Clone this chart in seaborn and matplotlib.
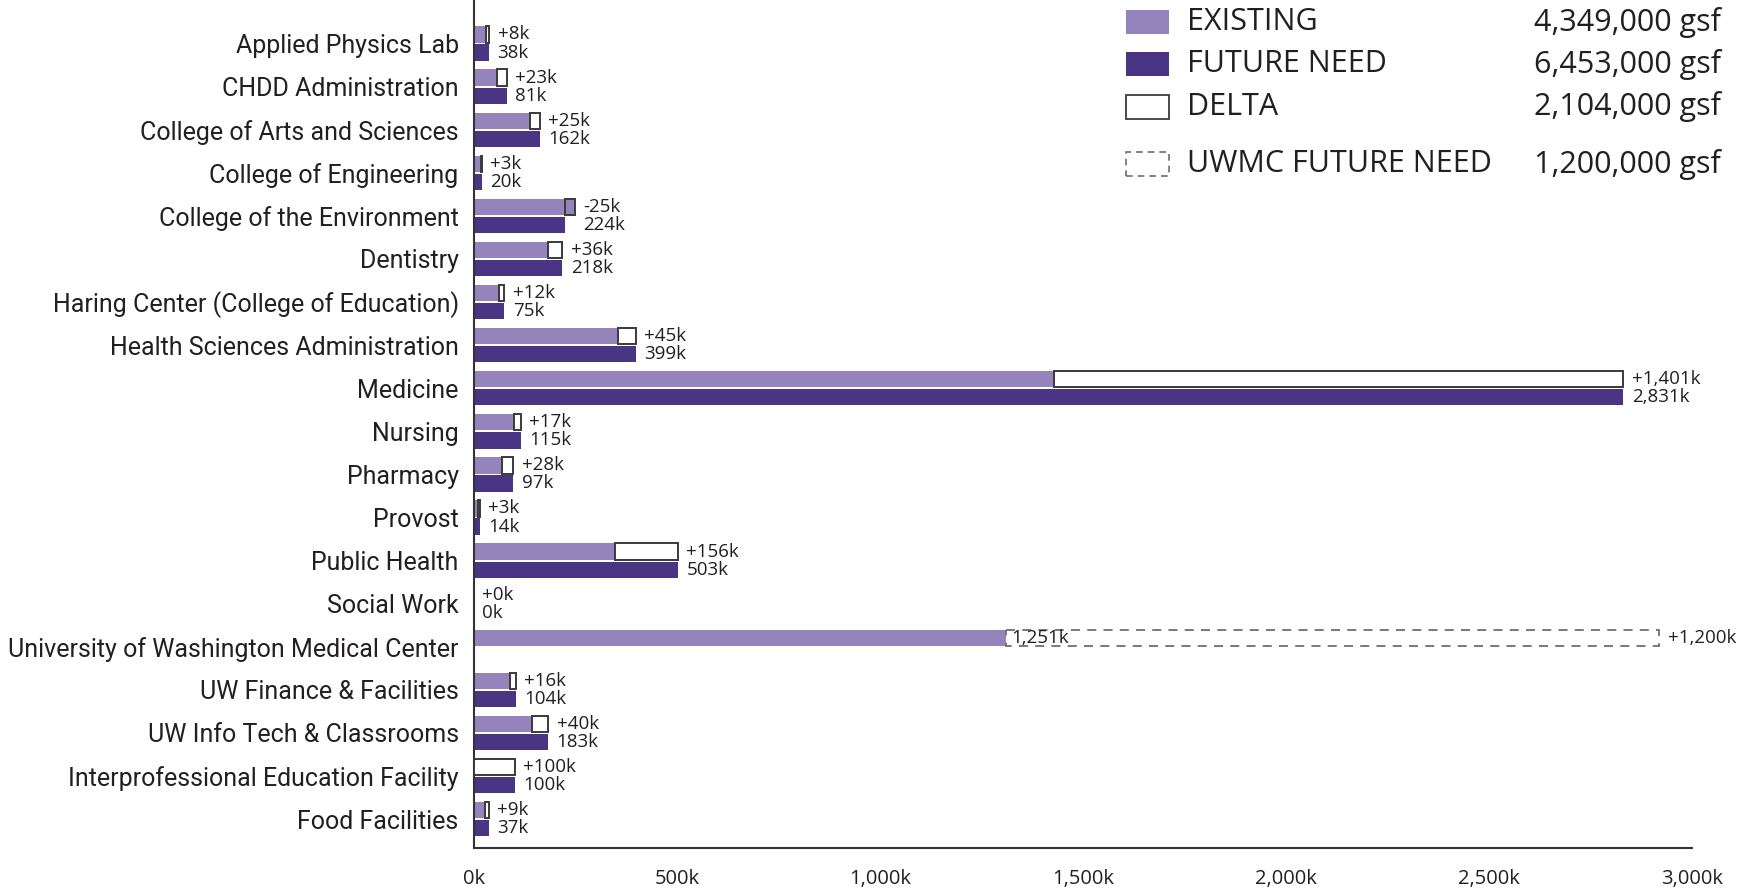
import numpy as np
import pandas as pd
import matplotlib
matplotlib.use('Agg')
import matplotlib.pyplot as plt
import seaborn as sns
from matplotlib.patches import Rectangle

# values in thousands of gsf
departments = [
    'Applied Physics Lab', 'CHDD Administration', 'College of Arts and Sciences',
    'College of Engineering', 'College of the Environment', 'Dentistry',
    'Haring Center (College of Education)', 'Health Sciences Administration',
    'Medicine', 'Nursing', 'Pharmacy', 'Provost', 'Public Health', 'Social Work',
    'University of Washington Medical Center', 'UW Finance & Facilities',
    'UW Info Tech & Classrooms', 'Interprofessional Education Facility',
    'Food Facilities',
]
existing = [30, 58, 137, 17, 249, 182, 63, 354, 1430, 98, 69, 11, 347, 0, 1310, 88, 143, 0, 28]
future_need = [38, 81, 162, 20, 224, 218, 75, 399, 2831, 115, 97, 14, 503, 0, 0, 104, 183, 100, 37]
delta_labels = ['+8k', '+23k', '+25k', '+3k', '-25k', '+36k', '+12k', '+45k', '+1,401k',
                '+17k', '+28k', '+3k', '+156k', '+0k', '', '+16k', '+40k', '+100k', '+9k']
future_labels = ['38k', '81k', '162k', '20k', '224k', '218k', '75k', '399k', '2,831k',
                 '115k', '97k', '14k', '503k', '0k', '', '104k', '183k', '100k', '37k']

# UWMC is drawn differently: existing bar plus a dashed future-need box
uwmc_name = 'University of Washington Medical Center'
uwmc_existing_label = '1,251k'
uwmc_future_end = 2920
uwmc_future_label = '+1,200k'

legend_names = ['EXISTING', 'FUTURE NEED', 'DELTA', 'UWMC FUTURE NEED']
legend_totals = ['4,349,000 gsf', '6,453,000 gsf', '2,104,000 gsf', '1,200,000 gsf']

x_ticks = [0, 500, 1000, 1500, 2000, 2500, 3000]

LIGHT = '#9584bc'
DARK = '#4a3484'
EDGE = '#3a3a3a'
TEXT = '#231f20'

sns.set_theme(style='white')
plt.rcParams['font.family'] = ['Open Sans', 'DejaVu Sans']

df = pd.DataFrame({
    'department': departments * 2,
    'kind': ['existing'] * len(departments) + ['future'] * len(departments),
    'gsf': existing + future_need,
})

fig = plt.figure(figsize=(17.52, 8.88), dpi=100)
ax = fig.add_axes([0.2705, 0.045, 0.6952, 0.955])

sns.barplot(data=df, y='department', x='gsf', hue='kind', order=departments,
            hue_order=['existing', 'future'], palette=[LIGHT, DARK], saturation=1,
            orient='h', width=0.84, gap=0.1, errorbar=None, linewidth=0,
            legend=False, ax=ax)

ex_bars = ax.containers[0]
fu_bars = ax.containers[1]

for i, name in enumerate(departments):
    eb = ex_bars[i]
    fb = fu_bars[i]
    y0, h = eb.get_y(), eb.get_height()
    ey = y0 + h / 2
    fy = fb.get_y() + fb.get_height() / 2
    ex, fu = existing[i], future_need[i]

    if name == uwmc_name:
        ax.add_patch(Rectangle((ex, y0), uwmc_future_end - ex, h, facecolor='none',
                               edgecolor='#6e6e6e', lw=1.3, ls=(0, (5, 4)), zorder=3))
        ax.annotate(uwmc_existing_label, (ex, ey), xytext=(4, 0), textcoords='offset points',
                    va='center', ha='left', fontsize=13.5, color=TEXT)
        ax.annotate(uwmc_future_label, (uwmc_future_end, ey), xytext=(6, 0),
                    textcoords='offset points', va='center', ha='left', fontsize=13.5, color=TEXT)
        continue

    if fu != ex:
        lo = min(ex, fu)
        face = 'white' if fu > ex else 'none'
        ax.add_patch(Rectangle((lo, y0), abs(fu - ex), h, facecolor=face,
                               edgecolor=EDGE, lw=1.4, zorder=3))

    x_lab = max(ex, fu)
    ax.annotate(delta_labels[i], (x_lab, ey), xytext=(6, 0), textcoords='offset points',
                va='center', ha='left', fontsize=13.5, color=TEXT)
    ax.annotate(future_labels[i], (x_lab, fy), xytext=(6, 0), textcoords='offset points',
                va='center', ha='left', fontsize=13.5, color=TEXT)

ax.set_xlim(0, 3000)
ax.set_ylim(18.67, -1.01)
ax.set_xticks(x_ticks)
ax.set_xticklabels([f'{v:,}k' for v in x_ticks], fontsize=14.5, color=TEXT)
ax.set_yticks(range(len(departments)))
ax.set_yticklabels(departments, fontsize=18, color=TEXT,
                   family=['Roboto', 'DejaVu Sans'])
ax.tick_params(axis='x', direction='in', length=12, width=1.5, color='#333333', pad=15)
ax.tick_params(axis='y', length=0, pad=11)
ax.set_xlabel('')
ax.set_ylabel('')

for side in ['top', 'right']:
    ax.spines[side].set_visible(False)
for side in ['left', 'bottom']:
    ax.spines[side].set_color('#333333')
    ax.spines[side].set_linewidth(1.5)

# legend, drawn by hand in figure pixels
W, H = 1752, 888
row_y = [22, 64, 107, 164]
styles = [
    dict(facecolor=LIGHT, edgecolor='none', lw=0),
    dict(facecolor=DARK, edgecolor='none', lw=0),
    dict(facecolor='white', edgecolor=EDGE, lw=1.3),
    dict(facecolor='none', edgecolor='#6e6e6e', lw=1.2, ls=(0, (4, 3))),
]
for yc, name, total, st in zip(row_y, legend_names, legend_totals, styles):
    fig.add_artist(Rectangle((1126 / W, 1 - (yc + 12) / H), 43 / W, 24 / H,
                             transform=fig.transFigure, **st))
    fig.text(1187 / W, 1 - yc / H, name, fontsize=22, va='center', ha='left', color=TEXT)
    fig.text(1721 / W, 1 - yc / H, total, fontsize=22, va='center', ha='right', color=TEXT)

fig.savefig('out.png', dpi=100)
